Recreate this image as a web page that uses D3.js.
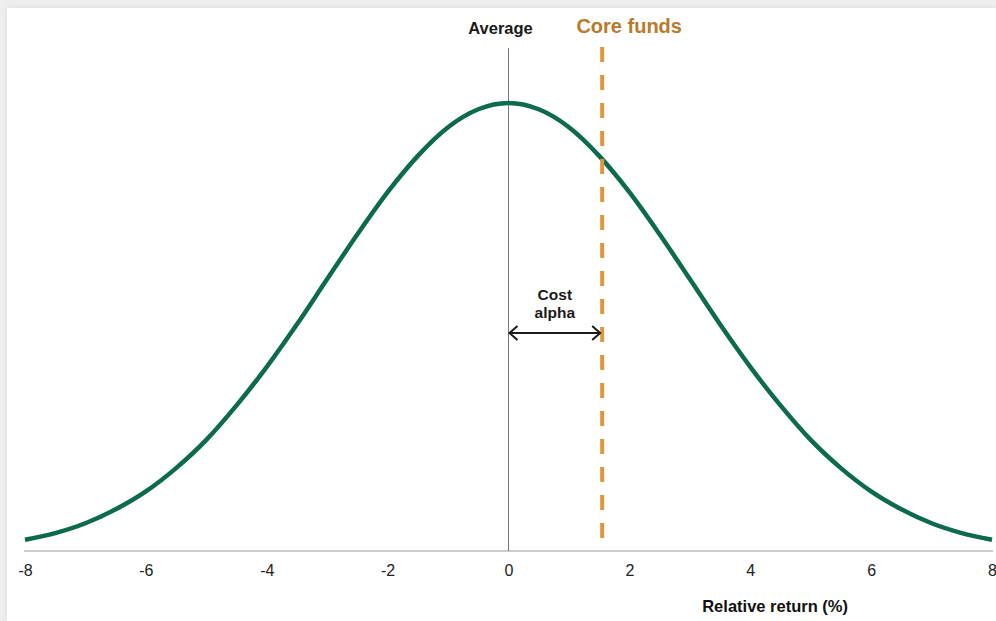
<!DOCTYPE html>
<html>
    <head>
        <meta charset="UTF-8">
        <title>Cost alpha</title>
        <style type="text/css">
            body {
                margin: 0;
                width: 996px;
                height: 621px;
                overflow: hidden;
                background: #eeeeee;
                font-family: "Liberation Sans", Arial, sans-serif;
            }
            #card {
                position: absolute;
                left: 7px;
                top: 8px;
                width: 989px;
                height: 613px;
                background: #ffffff;
                box-shadow: 0 0 6px rgba(0, 0, 0, 0.08);
            }
            #plot {
                position: absolute;
                left: 0;
                top: 0;
            }
        </style>
        <script src="https://d3js.org/d3.v7.min.js"></script>
    </head>
    <body>
        <div id="card"></div>
        <div id="plot"></div>
        <script>
            // relative return (%) and relative density
            const returns = [-8, -7.5, -7, -6.5, -6, -5.5, -5, -4.5, -4, -3.5, -3, -2.5, -2, -1.5, -1, -0.5,
                             0, 0.5, 1, 1.5, 2, 2.5, 3, 3.5, 4, 4.5, 5, 5.5, 6, 6.5, 7, 7.5, 8];
            const density = [0.025, 0.040, 0.062, 0.093, 0.133, 0.185, 0.248, 0.325, 0.411, 0.506, 0.607, 0.707, 0.801, 0.882, 0.946, 0.986,
                             1.000, 0.986, 0.946, 0.882, 0.801, 0.707, 0.607, 0.506, 0.411, 0.325, 0.248, 0.185, 0.133, 0.093, 0.062, 0.040, 0.025];
            const xTicks = [-8, -6, -4, -2, 0, 2, 4, 6, 8];
            const averageReturn = 0;
            const coreFundsReturn = 1.55;

            const width = 996, height = 621;

            const svg = d3.select("#plot")
                .append("svg")
                .attr("width", width)
                .attr("height", height);

            const x = d3.scaleLinear().domain([-8, 8]).range([25, 992]);
            const y = d3.scaleLinear().domain([0, 1]).range([551, 103]);

            // x axis: plain line, labels only
            const xAxis = d3.axisBottom(x).tickValues(xTicks).tickSize(0).tickPadding(14)
                .tickFormat(d => d < 0 ? "-" + Math.abs(d) : d);
            const gx = svg.append("g")
                .attr("transform", `translate(0, ${y(0)})`)
                .call(xAxis);
            gx.select(".domain")
                .attr("d", `M${x(-8) - 1},0H${x(8) + 1}`)
                .attr("stroke", "#9a9a9a")
                .attr("stroke-width", 1.2);
            gx.selectAll("text")
                .attr("font-family", "Liberation Sans, Arial, sans-serif")
                .attr("font-size", 16)
                .attr("fill", "#222");

            svg.append("text")
                .attr("x", 848)
                .attr("y", 612)
                .attr("text-anchor", "end")
                .attr("font-size", 16.5)
                .attr("font-weight", "bold")
                .attr("fill", "#111")
                .text("Relative return (%)");

            // average line
            svg.append("line")
                .attr("x1", x(averageReturn)).attr("x2", x(averageReturn))
                .attr("y1", 48).attr("y2", y(0))
                .attr("stroke", "#777")
                .attr("stroke-width", 1);
            svg.append("text")
                .attr("x", x(averageReturn) - 8)
                .attr("y", 34)
                .attr("text-anchor", "middle")
                .attr("font-size", 16.5)
                .attr("font-weight", "bold")
                .attr("fill", "#1a1a1a")
                .text("Average");

            // distribution curve
            const line = d3.line()
                .x((d, i) => x(returns[i]))
                .y(d => y(d))
                .curve(d3.curveMonotoneX);
            svg.append("path")
                .datum(density)
                .attr("d", line)
                .attr("fill", "none")
                .attr("stroke", "#0c6a4e")
                .attr("stroke-width", 4.5);

            // core funds line
            svg.append("line")
                .attr("x1", x(coreFundsReturn)).attr("x2", x(coreFundsReturn))
                .attr("y1", 47).attr("y2", 541)
                .attr("stroke", "#e0963b")
                .attr("stroke-width", 4)
                .attr("stroke-dasharray", "15 13");
            svg.append("text")
                .attr("x", x(coreFundsReturn) + 27)
                .attr("y", 33)
                .attr("text-anchor", "middle")
                .attr("font-size", 20)
                .attr("font-weight", "bold")
                .attr("fill", "#b97a2c")
                .text("Core funds");

            // cost alpha arrow
            const ay = 333;
            const ax0 = x(averageReturn) + 1, ax1 = x(coreFundsReturn) - 2;
            svg.append("line")
                .attr("x1", ax0).attr("x2", ax1)
                .attr("y1", ay).attr("y2", ay)
                .attr("stroke", "#1a1a1a")
                .attr("stroke-width", 2);
            svg.append("path")
                .attr("d", `M${ax0 + 8},${ay - 7}L${ax0},${ay}L${ax0 + 8},${ay + 7}M${ax1 - 8},${ay - 7}L${ax1},${ay}L${ax1 - 8},${ay + 7}`)
                .attr("fill", "none")
                .attr("stroke", "#1a1a1a")
                .attr("stroke-width", 2);
            const lbl = svg.append("text")
                .attr("text-anchor", "middle")
                .attr("font-size", 15.5)
                .attr("font-weight", "bold")
                .attr("fill", "#1a1a1a");
            lbl.append("tspan").attr("x", (ax0 + ax1) / 2).attr("y", 300).text("Cost");
            lbl.append("tspan").attr("x", (ax0 + ax1) / 2).attr("y", 318).text("alpha");
        </script>
    </body>
</html>
